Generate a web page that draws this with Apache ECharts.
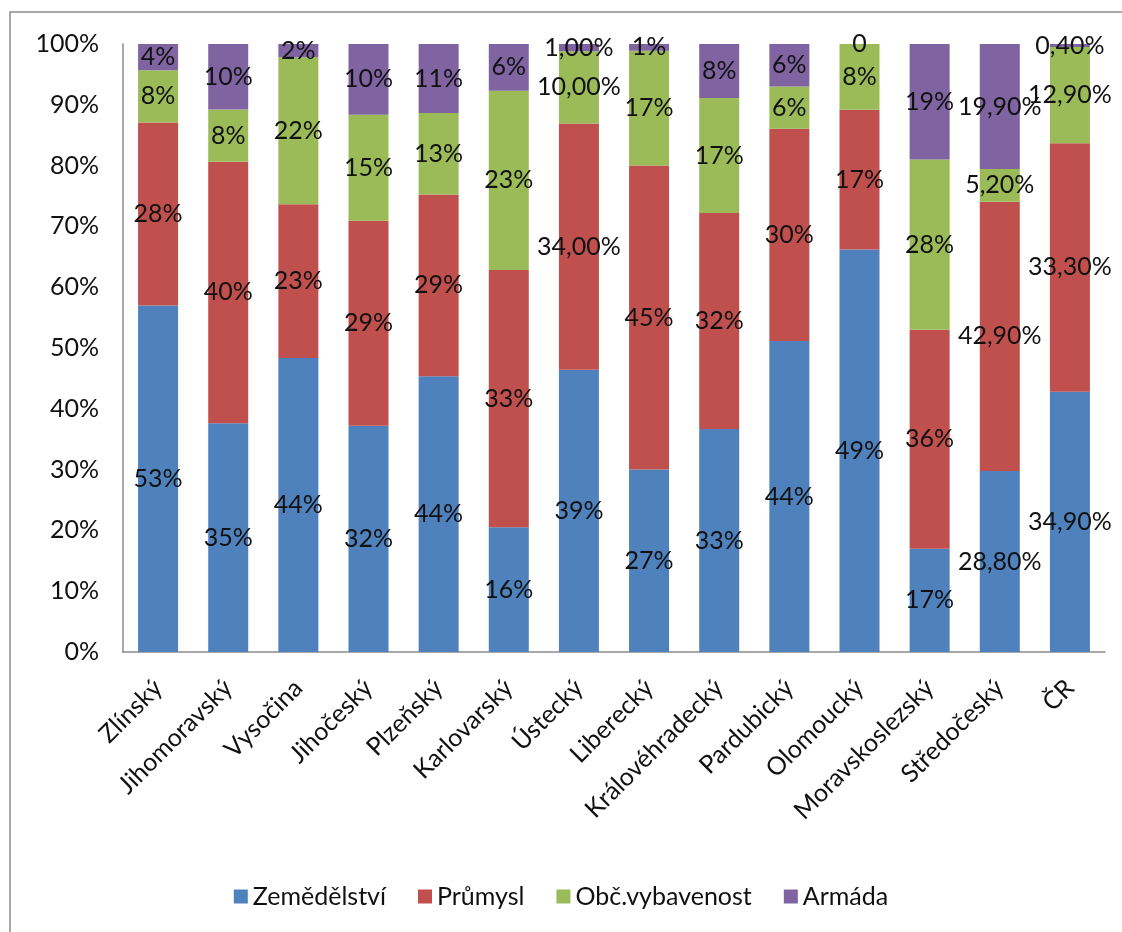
<!DOCTYPE html>
<html><head><meta charset="utf-8">
<script src="https://cdn.jsdelivr.net/npm/echarts@6/dist/echarts.min.js"></script>
<style>html,body{margin:0;padding:0;background:#fff}#c{width:1122px;height:932px}</style>
</head><body><div id="c"></div>
<script>
const categories = ['Zlínský','Jihomoravský','Vysočina','Jihočeský','Plzeňský','Karlovarský','Ústecký','Liberecký','Královéhradecký','Pardubický','Olomoucký','Moravskoslezský','Středočeský','ČR'];
const seriesNames = ['Zemědělství','Průmysl','Obč.vybavenost','Armáda'];
const zemedelstvi = [53,35,44,32,44,16,39,27,33,44,49,17,28.8,34.9];
const prumysl     = [28,40,23,29,29,33,34,45,32,30,17,36,42.9,33.3];
const obcVyb      = [8,8,22,15,13,23,10,17,17,6,8,28,5.2,12.9];
const armada      = [4,10,2,10,11,6,1,1,8,6,0,19,19.9,0.4];
// label decimals as printed in the chart (-1 = plain number without %)
const decZem = [0,0,0,0,0,0,0,0,0,0,0,0,2,2];
const decPru = [0,0,0,0,0,0,2,0,0,0,0,0,2,2];
const decObc = [0,0,0,0,0,0,2,0,0,0,0,0,2,2];
const decArm = [0,0,0,0,0,0,2,0,0,0,-1,0,2,2];
const yTicks = [0,10,20,30,40,50,60,70,80,90,100];
const colors = ['#4F81BD','#C0504D','#9BBB59','#8064A2'];

const raw = [zemedelstvi, prumysl, obcVyb, armada];
const decs = [decZem, decPru, decObc, decArm];
const totals = categories.map((c,i)=>raw.reduce((s,a)=>s+a[i],0));
function fmt(v,d){ if(d<0) return String(v); if(d===0) return Math.round(v)+'%'; return v.toFixed(d).replace('.',',')+'%'; }

const FONT = 'Lato';
const FS = 25;
const chart = echarts.init(document.getElementById('c'), null, {renderer:'canvas'});
chart.setOption({
  animation:false,
  backgroundColor:'#fff',
  textStyle:{fontFamily:FONT},
  graphic:[{type:'rect',shape:{x:10,y:12,width:1200,height:1000},style:{fill:'none',stroke:'#8c8c8c',lineWidth:1.5},silent:true}],
  grid:{left:123,right:17,top:44,bottom:280,containLabel:false},
  legend:{bottom:18,left:'center',itemWidth:14,itemHeight:14,itemGap:32,icon:'rect',
    textStyle:{fontFamily:FONT,fontSize:FS,color:'#111'},data:seriesNames},
  xAxis:{type:'category',data:categories,
    axisLine:{lineStyle:{color:'#8c8c8c',width:1.5}},axisTick:{show:false},
    axisLabel:{interval:0,rotate:45,margin:32,fontFamily:FONT,fontSize:FS,color:'#111'}},
  yAxis:{type:'value',min:0,max:yTicks[yTicks.length-1],interval:yTicks[1]-yTicks[0],
    axisLine:{show:true,lineStyle:{color:'#8c8c8c',width:1.5}},axisTick:{show:false},splitLine:{show:false},
    axisLabel:{formatter:'{value}%',margin:24,fontFamily:FONT,fontSize:FS,color:'#111'}},
  series: raw.map((arr,si)=>({
    name:seriesNames[si],type:'bar',stack:'a',barWidth:40,
    itemStyle:{color:colors[si]},
    label:{show:true,position:'inside',fontFamily:FONT,fontSize:FS,color:'#111',
      formatter:(p)=>fmt(arr[p.dataIndex],decs[si][p.dataIndex])},
    data: arr.map((v,i)=>v/totals[i]*100)
  }))
});
</script></body></html>
